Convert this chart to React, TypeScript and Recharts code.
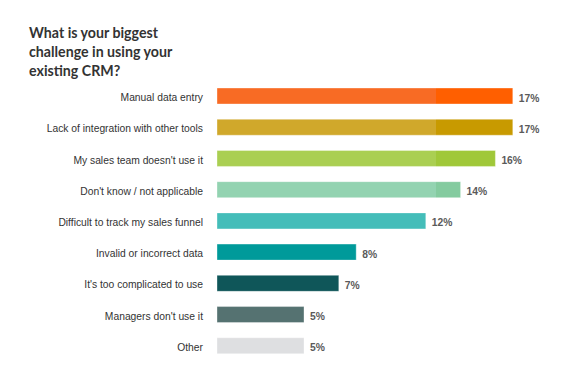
import { BarChart, Bar, XAxis, YAxis, Cell, LabelList } from "recharts";

const categories = [
  "Manual data entry",
  "Lack of integration with other tools",
  "My sales team doesn't use it",
  "Don't know / not applicable",
  "Difficult to track my sales funnel",
  "Invalid or incorrect data",
  "It's too complicated to use",
  "Managers don't use it",
  "Other",
];

const shares = [17, 17, 16, 14, 12, 8, 7, 5, 5];

// light part / darker tail of each bar
const lightColors = ["#F86B24", "#D0A82B", "#AACF52", "#93D3B1", "#44BDB9", "#009A9A", "#0F5659", "#557271", "#DEDFE1"];
const darkColors = ["#FF5F00", "#C89A00", "#A0C839", "#84CB9F", "#44BDB9", "#009A9A", "#0F5659", "#557271", "#DEDFE1"];

const data = categories.map((name, i) => ({ name, value: shares[i] }));

const FONT = "Liberation Sans, Arial, sans-serif";

function CategoryTick({ x, y, payload }: any) {
  return (
    <text x={x} y={y} dy={5.5} textAnchor="end" fontSize={10.3} fill="#333" fontFamily={FONT}>
      {payload.value}
    </text>
  );
}

function ValueLabel({ x, y, width, height, value }: any) {
  return (
    <text
      x={x + width + 6}
      y={y + height / 2}
      dy={5.5}
      fontSize={10.3}
      fill="#5a5a5a"
      fontWeight={600}
      fontFamily={FONT}
    >
      {`${value}%`}
    </text>
  );
}

export default function App() {
  return (
    <div style={{ position: "absolute", left: 0, top: 0, width: 570, height: 369, background: "#fff" }}>
      <div
        style={{
          position: "absolute",
          left: 29,
          top: 23,
          fontFamily: "Lato, sans-serif",
          fontWeight: 700,
          fontSize: 14.2,
          lineHeight: "19px",
          color: "#333",
        }}
      >
        What is your biggest
        <br />
        challenge in using your
        <br />
        existing CRM?
      </div>
      <BarChart
        width={570}
        height={369}
        data={data}
        layout="vertical"
        margin={{ top: 80, right: 5, bottom: 8, left: 0 }}
        barCategoryGap={0}
      >
        <defs>
          {lightColors.map((c, i) => (
            <linearGradient key={i} id={`bar-${i}`} gradientUnits="userSpaceOnUse" x1="0" y1="0" x2="570" y2="0">
              <stop offset="0.765" stopColor={c} />
              <stop offset="0.765" stopColor={darkColors[i]} />
            </linearGradient>
          ))}
        </defs>
        <XAxis type="number" domain={[0, 20]} hide />
        <YAxis
          type="category"
          dataKey="name"
          width={217}
          axisLine={false}
          tickLine={false}
          tickSize={0}
          tickMargin={14}
          interval={0}
          tick={<CategoryTick />}
        />
        <Bar dataKey="value" barSize={16} isAnimationActive={false} stroke="rgba(255,255,255,0.35)" strokeWidth={1}>
          {data.map((_, i) => (
            <Cell key={i} fill={`url(#bar-${i})`} />
          ))}
          <LabelList dataKey="value" content={<ValueLabel />} />
        </Bar>
      </BarChart>
    </div>
  );
}
